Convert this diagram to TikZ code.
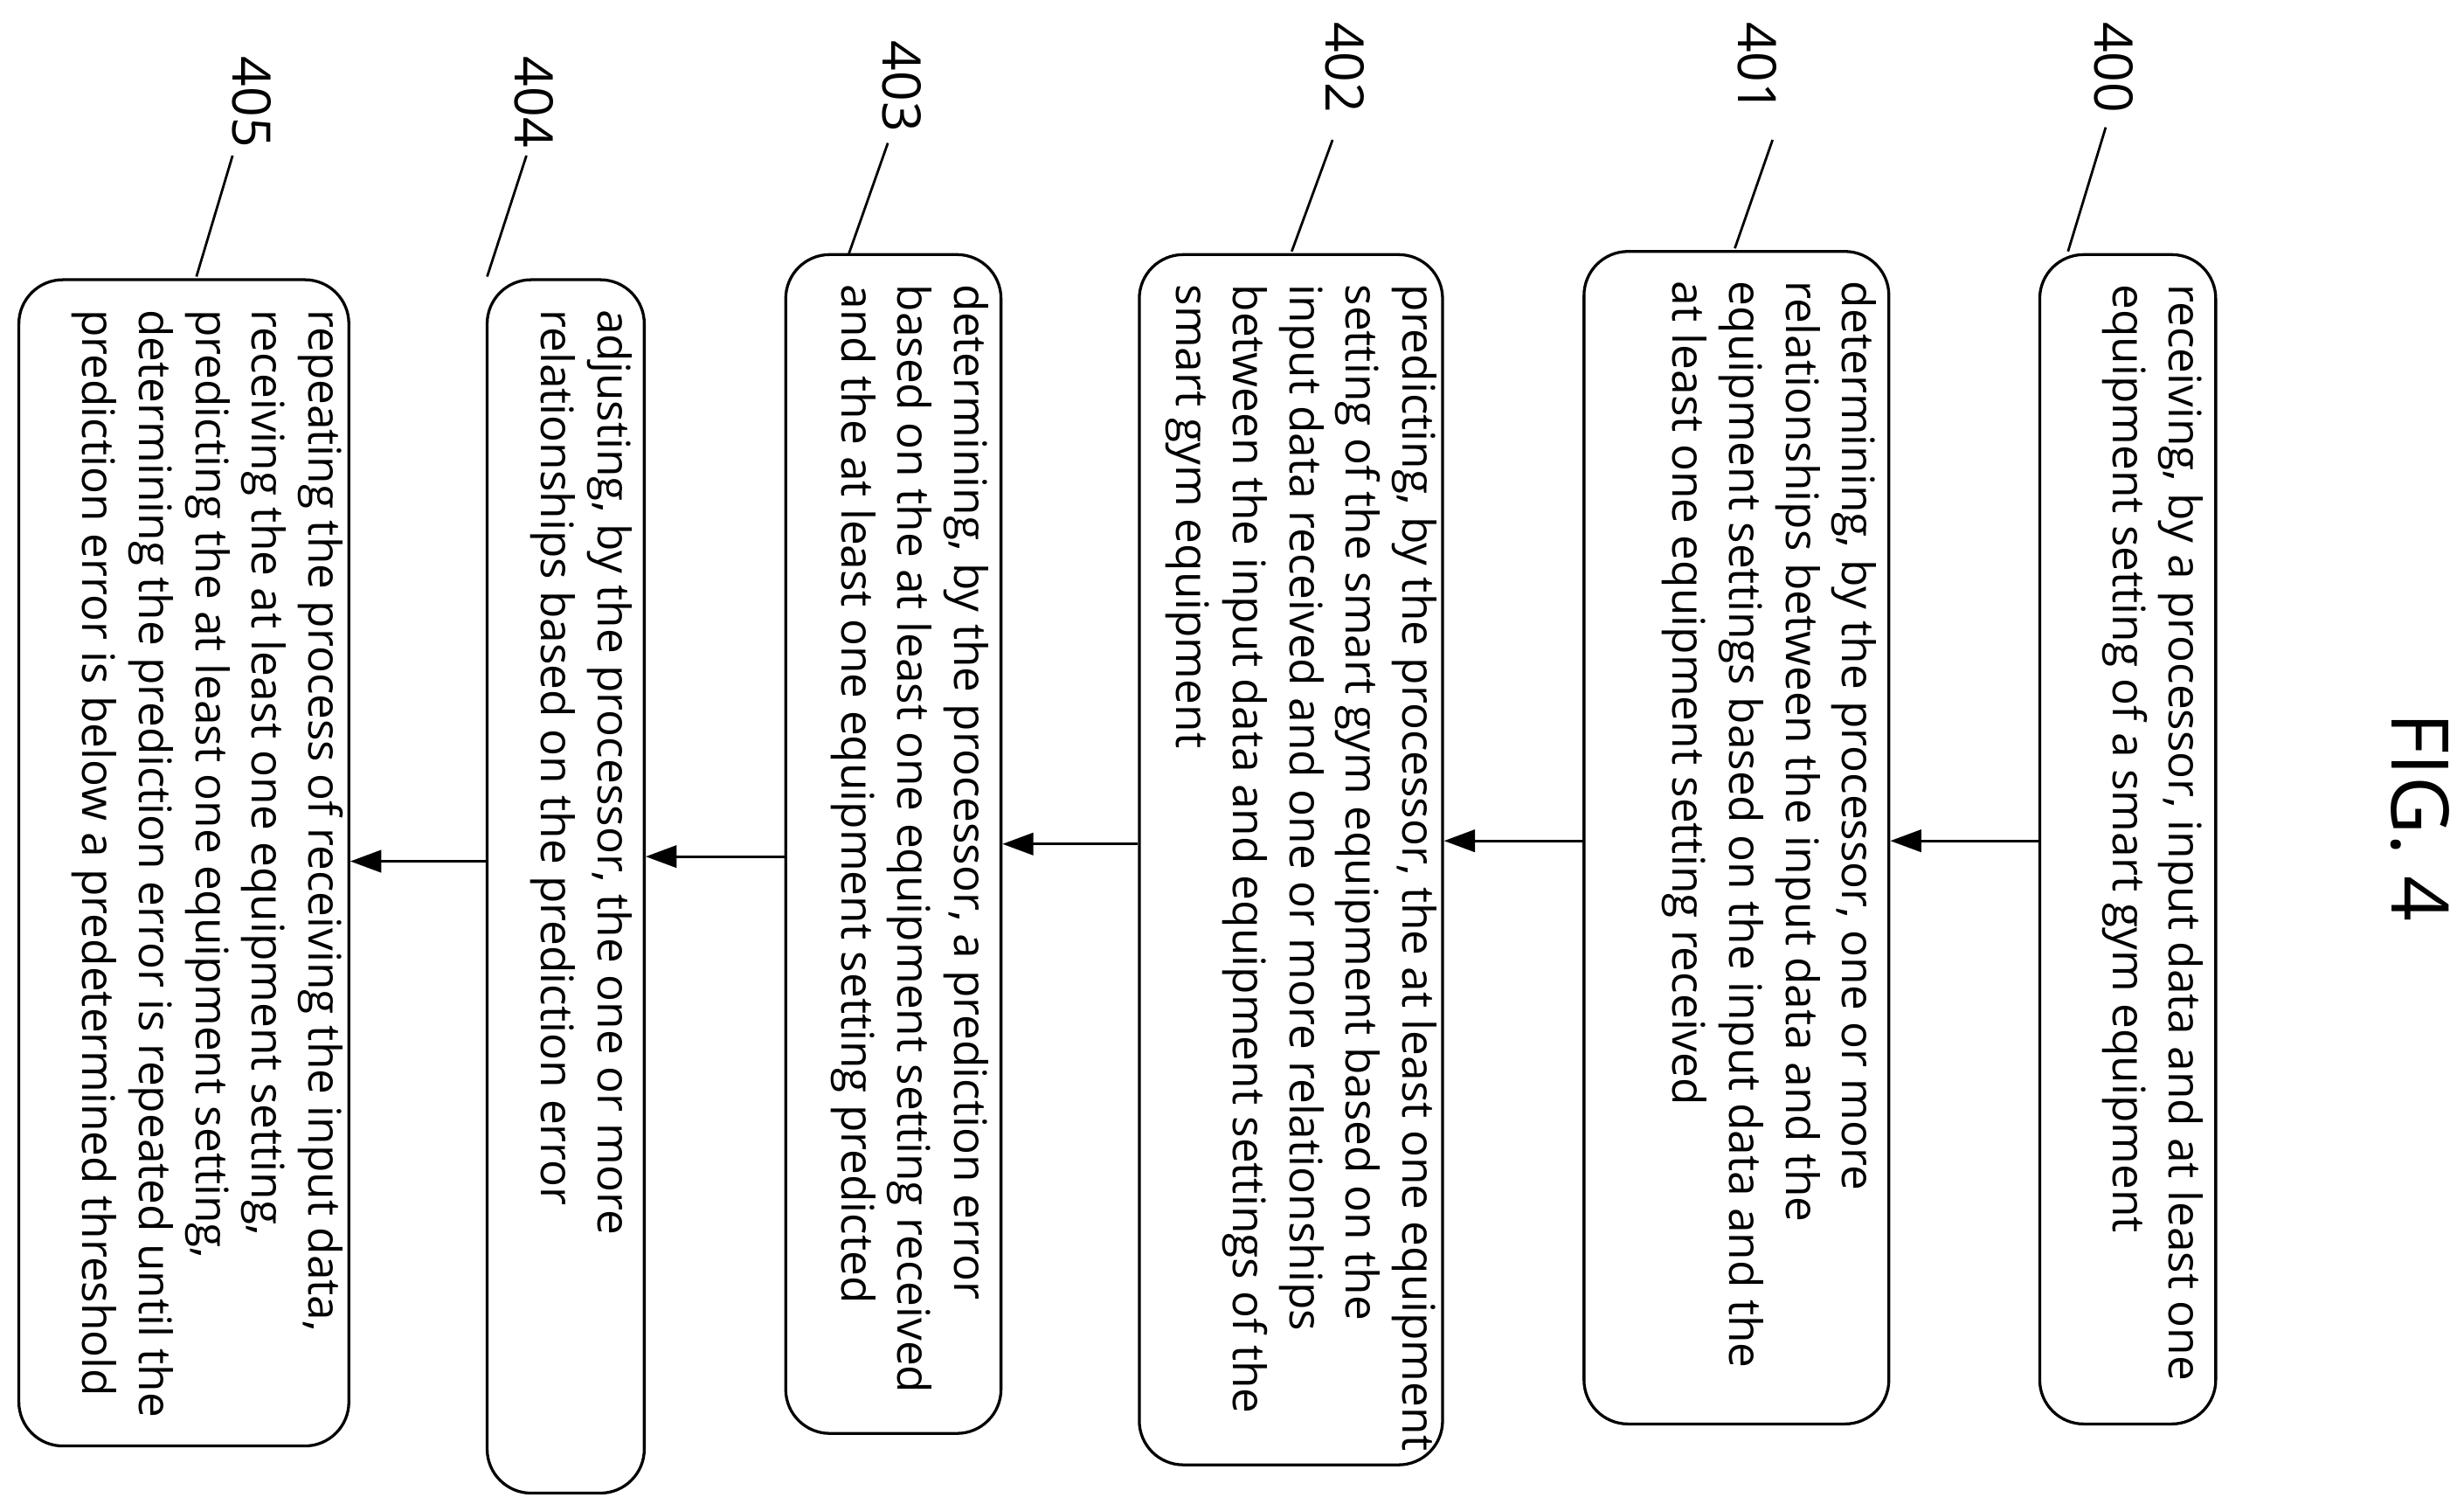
\documentclass[tikz,border=0pt]{standalone}
\usepackage{fontspec}
\setmainfont{Open Sans}
\usetikzlibrary{arrows.meta,calc}
\begin{document}
\begin{tikzpicture}[x=0.25mm,y=0.25mm,
  box/.style={draw,line width=1.3pt,rounded corners=7mm,inner sep=0pt},
  txt/.style={rotate=-90,anchor=north west,align=left,inner xsep=14pt,inner ysep=6pt,font=\fontsize{20.3}{25.6}\selectfont},
  lab/.style={rotate=-90,font=\fontsize{24}{28}\selectfont},
  lead/.style={line width=1.1pt},
  arr/.style={line width=1.3pt,-{Triangle[length=14pt,width=10pt]}}]
\useasboundingbox (0,0) rectangle (1568,961);
\node[box,minimum width=28mm,minimum height=186mm] (b400) at (1354,427) {};
\node[box,minimum width=48.5mm,minimum height=186.5mm] (b401) at (1105,428) {};
\node[box,minimum width=48.25mm,minimum height=192.5mm] (b402) at (821.5,414) {};
\node[box,minimum width=34.25mm,minimum height=187.5mm] (b403) at (568.5,424) {};
\node[box,minimum width=25mm,minimum height=193mm] (b404) at (360,397) {};
\node[box,minimum width=52.5mm,minimum height=185.5mm] (b405) at (117,412) {};
\node[txt] at (b400.north east) {receiving, by a processor, input data and at least one\\equipment setting of a smart gym equipment};
\node[txt] at (b401.north east) {determining, by the processor, one or more\\relationships between the input data and the\\equipment settings based on the input data and the\\at least one equipment setting received};
\node[txt,inner ysep=3pt] at (b402.north east) {predicting, by the processor, the at least one equipment\\setting of the smart gym equipment based on the\\input data received and one or more relationships\\between the input data and equipment settings of the\\smart gym equipment};
\node[txt] at (b403.north east) {determining, by the processor, a prediction error\\based on the at least one equipment setting received\\and the at least one equipment setting predicted};
\node[txt] at (b404.north east) {adjusting, by the processor, the one or more\\relationships based on the prediction error};
\node[txt,inner ysep=3pt] at (b405.north east) {repeating the process of receiving the input data,\\receiving the at least one equipment setting,\\predicting the at least one equipment setting,\\determining the prediction error is repeated until the\\prediction error is below a predetermined threshold};
\draw[arr] (b400.west |- 0,426) -- (b401.east |- 0,426);
\draw[arr] (b401.west |- 0,426) -- (b402.east |- 0,426);
\draw[arr] (b402.west |- 0,424) -- (b403.east |- 0,424);
\draw[arr] (b403.west |- 0,416) -- (b404.east |- 0,416);
\draw[arr] (b404.west |- 0,413) -- (b405.east |- 0,413);
\node[lab] (l400) at (1345,918) {400};
\node[lab] (l401) at (1118,918) {401};
\node[lab] (l402) at (856,918) {402};
\node[lab] (l403) at (574,906) {403};
\node[lab] (l404) at (340,896) {404};
\node[lab] (l405) at (160,896) {405};
\coordinate (e400) at (1316,801); \coordinate (e401) at (1104,803);
\coordinate (e402) at (822,801); \coordinate (e403) at (540,799);
\coordinate (e404) at (310,785); \coordinate (e405) at (125,785);
\draw[lead] (1340,880) -- (e400);
\draw[lead] (1128,872) -- (e401);
\draw[lead] (848,872) -- (e402);
\draw[lead] (565,870) -- (e403);
\draw[lead] (335,862) -- (e404);
\draw[lead] (148,862) -- (e405);
\node[rotate=-90,font=\fontsize{36}{40}\selectfont] (fig) at (1540,441) {FIG. 4};
\end{tikzpicture}
\end{document}
